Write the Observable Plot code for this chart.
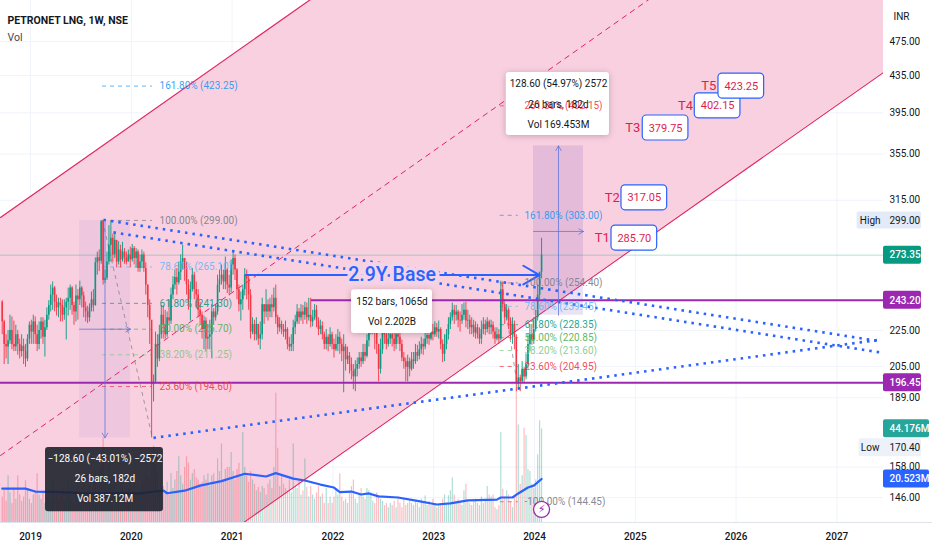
<!DOCTYPE html>
<html><head><meta charset="utf-8">
<script src="https://cdn.jsdelivr.net/npm/d3@7"></script>
<script src="https://cdn.jsdelivr.net/npm/@observablehq/plot@0.6"></script>
<style>
html,body{margin:0;padding:0;background:#fff}
#chart{width:932px;height:550px;overflow:hidden}
.shadow{filter:drop-shadow(0 1px 3px rgba(0,0,0,.22))}
</style></head><body><div id="chart"></div>
<script>
// ---------- weekly candles (INR) ----------
const firstWeek = 2018.7196, weekStep = 0.019246, firstOpen = 242;
const closes = [
230,217,215.5,219,225,217,215.5,222.5,217,213,
216,213,209,220,228,224,230,222.5,217,225,
230,221,226.5,234,240,246.5,251,242,238.5,241.5,
240,234,238.5,242,244.5,251,240,236,246,243.5,
251,246,238.5,236,232.5,238.5,243.5,240,268,271.5,
269,298,256,257.5,268.5,280.5,285.5,273.5,284,268.5,
277,270,275.5,271.5,268.5,273.5,270,278,271,275.5,
264,268.5,273.5,264,253,240,231,195.5,197,217,
209,222.5,234,228,222.5,232.5,230.5,246.5,253,258,
254.5,261.5,268.5,271,264,253,243.5,250,259.5,250,
246.5,237,234,225.5,230.5,220,221,222.5,236,232.5,
236,253,256.5,259.5,255,263,253,251,266.5,271,
263,250,240.5,243.5,250,259.5,257,246.5,224,228.5,
222.5,228.5,220,222.5,240.5,236,240.5,236,240.5,238.5,
244.5,232.5,226.5,228.5,225.5,224,225.5,217,215.5,217,
226.5,230,236,232.5,236,234,238.5,232.5,234,230,
232.5,237,230.5,225.5,227.5,222.5,217,221,217,222.5,
217,214,217,221,217,213,215.5,208.5,210.5,206,
202.5,199.5,203.5,206,209.5,207.5,212.5,210.5,219,225.5,
230.5,231,225.5,217,203.5,214,228.5,222.5,217,220,
222.5,220,217,222.5,221,217,209.5,207.5,204.5,207.5,
203.5,208.5,207.5,212.5,210.5,214,217,215.5,220,222,
220,224,222.5,226.5,224,225.5,217,211.5,217,222.5,
228.5,232.5,237,234,236,231,230.5,234,237,230.5,
231,226.5,228,223.5,226.5,222.5,220,225.5,228.5,225.5,
230,226.5,228,224,220,222.5,220,250,240.5,232.5,
237,230.5,222.5,228.5,221,196,199,197,203.5,199.5,
206,217,222.5,219.5,225.5,232.5,246.5,261.5,273.35];
const highs = [
243,231,222.5,225,234,233,230.5,228,225,220,
222.5,220,217,222.5,230,231,234,233,228,230,
232.5,232.5,231,238.5,243,253,255,252,246.5,244.5,
244.5,243.5,243.5,244.5,251,253,252,242,253,250,
255.5,252,248.5,242,239.5,241,248.5,250,271.5,275.5,
277,299,299,263,275.5,295,298,288.5,289,280.5,
283,280.5,282.5,278,275.5,277,279,281,279.5,278,
277,273.5,277,275.5,268,253,243.5,225.5,200.5,224,
222.5,228,240,240,237,236,243.5,251,258.5,263,
264,268.5,273.5,280.5,271,268.5,256.5,255,264,261.5,
255,250,242,236,233.5,232.5,228.5,231,240.5,238,
240.5,259.5,263,266.5,263,272,264,259.5,270,275.5,
273.5,264,253,248.5,253,264,263,259.5,250,232.5,
231,232.5,228.5,230,244.5,240.5,250,243.5,244.5,246.5,
251,253,234,232.5,230.5,228.5,230.5,226.5,221,222.5,
231,234,240.5,238,240.5,240,242,241.5,244.5,244.5,
237,240.5,240,232.5,231,230,224,225.5,222.5,226.5,
224,220,222.5,225.5,224,220,222.5,217,215.5,212.5,
209.5,206,208,209.5,212.5,212.5,217,217,222.5,228.5,
234,235,231,228.5,217,220,232.5,231,225.5,224.5,
226.5,225.5,224,226.5,225.5,224,219.5,212.5,209.5,211,
209.5,212.5,212.5,217,216.5,218.5,221,220,224,225.5,
226.5,228.5,228.5,230,229,230.5,226.5,219.5,222.5,225.5,
232.5,235.5,241.5,240,240,237,236,240.5,241.5,242,
237,234,232.5,231,230,228.5,226.5,230.5,232.5,231,
232.5,231,231,230,226.5,226.5,225.5,255.5,255,241.5,
240.5,238.5,232.5,232.5,230.5,222.5,206,200.5,207.5,204.5,
211.5,222.5,228.5,228.5,232.5,237,253,261.5,285.5];
const lows = [
222.5,206,209,206,217,214,213,213,211,209,
210,206,204.5,207.5,217,217,217,217,213,214,
220,217,210,225,231,236,237,236,233.5,232.5,
230,230,231,219.5,233.5,237,234,228,230,231,
240,238.5,232.5,230,229,230,236,236,239.5,259.5,
262,267,253,254,256,266.5,268.5,268.5,271,264.5,
266.5,264.5,268.5,267,266.5,268.5,264.5,268.5,266.5,264.5,
261.5,261.5,264,261.5,246.5,232.5,217,170.4,187,196,
204.5,207.5,220,220,220,221,228.5,228.5,243.5,250,
246.5,253,256,263,255.5,246.5,237,230.5,248.5,243.5,
238.5,233,228.5,220,214,213,214,214,209,228.5,
230.5,234,248,253,250,250,247.5,246,248,259.5,
256,243.5,236,230.5,237,246,243.5,237,220,222.5,
219,219,216.5,214,219.5,228.5,232.5,230.5,232.5,232.5,
236,228.5,222.5,224,222.5,221,219.5,214,213,213,
213,222.5,228.5,228.5,230.5,228.5,231,228.5,230.5,226.5,
227,231,226.5,222,222.5,219.5,214,214,213,215.5,
214,209.5,213,213,211.5,207.5,191.5,202.5,206,201,
198,193,192,199.5,203.5,204.5,206,207.5,209.5,215.5,
222.5,222.5,214,211.5,197,201,211.5,217,214,215.5,
217,215.5,213,214,217,213,207.5,203.5,197,197,
199.5,202.5,203.5,206,207.5,208.5,211.5,211,214,217,
216.5,219,219,221,221,220,214,207,207.5,214,
219.5,225.5,230.5,228.5,230.5,226.5,224,228.5,231,226.5,
225.5,222.5,222.5,221,220,220,217,217,222.5,222,
223.5,222.5,222.5,220,217,219,217,219,236,228.5,
230.5,225.5,219.5,217,214,192,193,192,196.5,196,
198,203.5,213,216.5,217,224,230.5,243.5,257];
// ---------- weekly volume (millions) ----------
const volumes = [
12,15,10,22,14,9,16,11,22,13,
10,12,19.7,15,11,9,13,15,23,13,
11,14,9,12,15,10,20,12,13,10,
12,17,10,14,20,13,11,9,15,17,
14,16,18,12,15,17,13,20,24,17,
24,26,40,22,18,27,20,17,24,15,
14,19,22,13,17,16,21,15,18,14,
17,15,20,18,24,22,20,28,36,27,
22,15,20,17,14,19,13,23,16,20,
24,31,22,18,26,31,28,20,23,25,
21,20,18,19,22,20,23,17,22,23,
18,30,24,37,20,25,26,26,33,24,
20,25,28,22,42.5,26,22,19,24,20,
18,15,16.5,14,17,16,13,18,20,16,
26,61,35,17,22,18,16,15,20,14,
37,17,16,20,13,15,30,16.5,12,17,
13,11,14,17,12,13.5,9,16,9,12,
9,12,16,13,23,12,10,11,9,14,
17,20,11,9,13,16,12,11,16,15,
14,10,9,14,12,11,10,8,9,7,
9,8,10,7,12,9,7,11,8,9,
10,9,8,10,9,7,11,9,12.5,8,
10,8,11,9,7,8,9,11,13,8,
12.6,15,21,13,10,11,9,8,15,18,
10,9,8,10,11,9,8,12,9,10,
17,13,12,13,7,6,8,42.5,15.7,12,
15,13,10,7,12,63,46,18,22,44.5,
41,25,24,18,16,20,32,48,44.176];
const maWeeks = [0,12,17,30,43,58,71,83,85,94,102,113,125,136,141,150,156,164,171,174,180,185,189,194,204,214,224,231,240,255,257,263,266,271,274,278];
const maValues = [16,16,14.6,14.3,13.7,13.9,13.7,15.1,13.8,15,17.4,19.5,23,21.7,23.3,20.7,19.8,17.9,16.5,14.3,14.6,13.2,13.7,12.3,11.8,10.2,8.5,9,10.4,10.8,11.8,11.8,13.7,16.5,17.4,20.523];

// ---------- axes ----------
const yearTicks = [2019,2020,2021,2022,2023,2024,2025,2026,2027];
const priceTicks = [475,435,395,355,315,225,205,189,158,146];
const xDomain = [2018.7024, 2027.4623], yDomain = [136.9, 528.1];
const tagEnd = 2027.8393, tagEndWide = 2027.9186, pageEnd = 2027.948;

// ---------- channel (year, upper, mid, lower) ----------
const channelYears = [2018.7024, 2027.4623];
const channelUpper = [301.3, 1500.6], channelMid = [162.8, 811.3], channelLower = [87.96, 438.4];
// ---------- dotted triangle ----------
const dotted = [
  {x1:2019.724,y1:299.5,x2:2027.433,y2:218.7},
  {x1:2019.823,y1:289.9,x2:2027.433,y2:212.5},
  {x1:2020.22, y1:170.4,x2:2027.433,y2:219.7}];
// ---------- fib levels ----------
const gray="#787b86",blue="#64b5f6",teal="#089981",green="#4caf50",lgreen="#81c784",red="#f23645",bluer="#2196f3";
const fibLeftPct = ["161.80%","100.00%","78.60%","61.80%","50.00%","38.20%","23.60%"];
const fibLeftVal = [423.25,299,265.1,241.3,225.7,211.25,194.6];
const fibLeftCol = [bluer,gray,blue,teal,green,lgreen,red];
const fibRightPct = ["261.80%","161.80%","100.00%","78.60%","61.80%","50.00%","38.20%","23.60%","-100.00%"];
const fibRightVal = [402.15,303,254.4,239.45,228.35,220.85,213.6,204.95,144.45];
const fibRightCol = [red,bluer,gray,blue,teal,green,lgreen,red,gray];
const fibL = fibLeftVal.map((v,i)=>({v,t:`${fibLeftPct[i]} (${v.toFixed(2)})`,c:fibLeftCol[i]}));
const fibR = fibRightVal.map((v,i)=>({v,t:`${fibRightPct[i]} (${v.toFixed(2)})`,c:fibRightCol[i]}));
// ---------- targets ----------
const targetNames = ["T1","T2","T3","T4","T5"];
const targetVals = [285.7,317.05,379.75,402.15,423.25];
const targetBoxX = [2024.764,2024.863,2025.074,2025.59,2025.825];
const targetNameX = [2024.672,2024.771,2024.975,2025.498,2025.729];
const targets = targetVals.map((v,i)=>({v,n:targetNames[i],x1:targetBoxX[i],x2:targetBoxX[i]+0.453,xm:targetBoxX[i]+0.2265,xn:targetNameX[i]}));

const rows = closes.map((c,i)=>{
  const o = i?closes[i-1]:firstOpen;
  return {x:firstWeek+i*weekStep,o,c,h:highs[i],l:lows[i],v:volumes[i],col:c>=o?"#089981":"#f23645"};
});
const channel = channelYears.map((x,i)=>({x,u:channelUpper[i],m:channelMid[i],l:channelLower[i]}));
// The volume pane shares the frame: a fixed share of it per million, read through the price scale.
const yScale = Plot.scale({y:{type:"log",domain:yDomain,range:[522,0]}});
const volPrice = v => yScale.invert(522 - v*2.12);
const ma = maWeeks.map((w,i)=>({x:firstWeek+w*weekStep,y:volPrice(maValues[i])}));

const font = "Roboto, 'Noto Sans', sans-serif";
const txt = "#131722";
const tags = [
 {v:273.35,t:"273.35",f:"#089981",e:tagEnd},
 {v:243.2,t:"243.20",f:"#9c27b0",e:tagEnd},
 {v:196.45,t:"196.45",f:"#9c27b0",e:tagEnd},
 {v:volPrice(44.176),t:"44.176M",f:"#26a69a",e:tagEndWide},
 {v:volPrice(20.523),t:"20.523M",f:"#2962ff",e:tagEndWide}];

const chart = Plot.plot({
  width:932,height:550,marginTop:0,marginBottom:28,marginLeft:0,marginRight:49,
  style:{fontFamily:font,background:"#fff",overflow:"visible"},
  color:{type:"identity"},
  x:{domain:xDomain,axis:null},
  y:{type:"log",domain:yDomain,axis:null},
  marks:[
    Plot.ruleY(priceTicks,{stroke:"#f0f3fa",strokeWidth:1}),
    Plot.ruleX(yearTicks,{stroke:"#f0f3fa",strokeWidth:1}),
    Plot.areaY(channel,{x:"x",y1:"u",y2:"l",fill:"#f9d0df",clip:true}),
    Plot.ruleY([yDomain[0]],{x1:xDomain[0],x2:pageEnd,stroke:"#e0e3eb",strokeWidth:1}),
    // volume
    Plot.ruleX(rows,{x:"x",y1:()=>volPrice(0),y2:d=>volPrice(d.v),stroke:"col",strokeOpacity:.32,strokeWidth:1.2,clip:true}),
    Plot.line(ma,{x:"x",y:"y",stroke:"#2962ff",strokeWidth:2.2}),
    // channel lines
    Plot.line(channel,{x:"x",y:"u",stroke:"#e0245e",strokeWidth:1.1,clip:true}),
    Plot.line(channel,{x:"x",y:"m",stroke:"#e0245e",strokeWidth:1,strokeDasharray:"5 5",clip:true}),
    Plot.line(channel,{x:"x",y:"l",stroke:"#e0245e",strokeWidth:1.1,clip:true}),
    // last price
    Plot.ruleY([273.35],{x1:xDomain[0],x2:xDomain[1],stroke:"#089981",strokeOpacity:.3,strokeWidth:1}),
    // measure boxes
    Plot.rect([{a:2019.486,b:2019.992,c:170.4,d:299}],{x1:"a",x2:"b",y1:"c",y2:"d",fill:"#9575cd",fillOpacity:.1}),
    Plot.rect([{a:2023.99,b:2024.486,c:234,d:362.6}],{x1:"a",x2:"b",y1:"c",y2:"d",fill:"#7e57c2",fillOpacity:.17}),
    // fib level dashes
    Plot.ruleY(fibL,{y:"v",x1:2019.714,x2:2020.21,stroke:"c",strokeWidth:1,strokeDasharray:"4 4",strokeOpacity:.7}),
    Plot.ruleY(fibR,{y:"v",x1:2023.66,x2:2023.84,stroke:"c",strokeWidth:1,strokeDasharray:"4 4",strokeOpacity:.7}),
    Plot.link([{a:2019.714,b:299,c:2020.21,d:170.4},{a:2023.673,b:254.4,c:2023.83,d:195}],
      {x1:"a",y1:"b",x2:"c",y2:"d",stroke:gray,strokeWidth:1,strokeDasharray:"4 4",strokeOpacity:.7}),
    // candles
    Plot.ruleX(rows,{x:"x",y1:"l",y2:"h",stroke:"col",strokeWidth:.9}),
    Plot.ruleX(rows,{x:"x",y1:"o",y2:"c",stroke:"col",strokeWidth:1.6}),
    // horizontal levels
    Plot.ruleY([196.45],{x1:xDomain[0],x2:xDomain[1],stroke:"#9c27b0",strokeWidth:2}),
    Plot.ruleY([243.2],{x1:2021.788,x2:xDomain[1],stroke:"#9c27b0",strokeWidth:2}),
    // dotted triangle
    Plot.link(dotted,{x1:"x1",y1:"y1",x2:"x2",y2:"y2",stroke:"#2962ff",strokeWidth:2.6,strokeDasharray:"2.5 5"}),
    // measure arrows
    Plot.arrow([{a:2019.739,b:299,c:2019.739,d:170.4},{a:2019.486,b:225.7,c:2019.992,d:225.7},
                {a:2024.238,b:234,c:2024.238,d:362.6},{a:2023.99,b:290.6,c:2024.486,d:290.6}],
      {x1:"a",y1:"b",x2:"c",y2:"d",stroke:"#5b74dc",strokeWidth:.9,strokeOpacity:.85,headLength:9,bend:0}),
    // base arrow
    Plot.arrow([{a:2021.134,b:259.6,c:2024.05,d:259.6}],{x1:"a",y1:"b",x2:"c",y2:"d",stroke:"#2962ff",strokeWidth:2,headLength:14,bend:0}),
    Plot.text(["2.9Y Base"],{x:2022.587,y:259.6,fill:"#2962ff",stroke:"#f3d4e6",strokeWidth:8,fontSize:19.5,fontWeight:500}),
    // fib texts
    Plot.text(fibL,{x:2020.28,y:"v",text:"t",fill:"c",fillOpacity:.9,textAnchor:"start",fontSize:10}),
    // labels
    Plot.rect([{a:2022.185,b:2022.988,c:223.2,d:250},{a:2023.72,b:2024.744,c:372.5,d:438.4}],
      {x1:"a",x2:"b",y1:"c",y2:"d",fill:"#fff",rx:3,className:"shadow"}),
    Plot.text(fibR,{x:2023.9,y:"v",text:"t",fill:"c",fillOpacity:.9,textAnchor:"start",fontSize:10}),
    Plot.rect([{a:2019.149,b:2020.319,c:140.8,d:166.2}],{x1:"a",x2:"b",y1:"c",y2:"d",fill:"#1e222d",fillOpacity:.9,rx:3}),
    Plot.text(["−128.60 (−43.01%) −2572","26 bars, 182d","Vol 387.12M"],{x:2019.739,y:[161.6,153.4,145.7],fill:"#fff",fontSize:10}),
    Plot.text(["128.60 (54.97%) 2572","26 bars, 182d","Vol 169.453M"],{x:2024.238,y:[426,403.6,383.2],fill:txt,fontSize:10}),
    Plot.text(["152 bars, 1065d","Vol 2.202B"],{x:2022.586,y:[242.5,230.2],fill:txt,fontSize:10}),
    // targets
    Plot.rect(targets,{x1:"x1",x2:"x2",y1:"v",y2:"v",insetTop:-12.5,insetBottom:-12.5,fill:"#fff",stroke:"#2962ff",strokeWidth:1.2,rx:4}),
    Plot.text(targets,{x:"xm",y:"v",text:d=>d.v.toFixed(2),fill:"#dd1e4f",fontSize:11}),
    Plot.text(targets,{x:"xn",y:"v",text:"n",fill:"#dd1e4f",fontSize:13}),
    // flash event
    Plot.dot([{x:2024.07,y:141.6}],{x:"x",y:"y",r:8,fill:"#fff",stroke:"#9c27b0",strokeWidth:1.3}),
    Plot.text(["⚡"],{x:2024.07,y:141.6,fill:"#9c27b0",fontSize:11,fontFamily:"DejaVu Sans"}),
    // price tags
    Plot.rect(tags,{x1:xDomain[1],x2:"e",y1:"v",y2:"v",insetTop:-9,insetBottom:-9,fill:"f",rx:2}),
    Plot.text(tags,{x:xDomain[1],y:"v",text:"t",dx:6,fill:"#fff",textAnchor:"start",fontSize:10,fontWeight:500}),
    Plot.rect([{v:299,a:2027.2}],{x1:"a",x2:tagEnd,y1:"v",y2:"v",insetTop:-8.5,insetBottom:-8.5,fill:"#e3eaf8",rx:2}),
    Plot.rect([{v:170.4,a:2027.22}],{x1:"a",x2:tagEnd,y1:"v",y2:"v",insetTop:-9,insetBottom:-9,dy:10,fill:"#edf2fa",rx:2}),
    Plot.text(["High"],{x:2027.33,y:299,fill:txt,fontSize:10}),
    Plot.text(["299.00"],{x:xDomain[1],y:299,dx:6,fill:txt,textAnchor:"start",fontSize:10}),
    Plot.text(["Low"],{x:2027.33,y:170.4,dy:10,fill:txt,fontSize:10}),
    Plot.text(["170.40"],{x:xDomain[1],y:170.4,dy:10,dx:6,fill:txt,textAnchor:"start",fontSize:10}),
    Plot.text(["INR"],{x:xDomain[1],y:yDomain[1],dx:10,dy:16,fill:txt,textAnchor:"start",fontSize:10}),
    Plot.text(["PETRONET LNG, 1W, NSE"],{frameAnchor:"top-left",dx:7,dy:16,fill:txt,fontSize:10.5,fontWeight:700,textAnchor:"start"}),
    Plot.text(["Vol"],{frameAnchor:"top-left",dx:7,dy:33,fill:"#434651",fontSize:10.5,textAnchor:"start"}),
    // axes
    Plot.axisX({ticks:yearTicks,tickFormat:d=>String(d),tickSize:0,tickPadding:10,label:null,fontSize:10,fontWeight:500,fill:txt}),
    Plot.axisY({anchor:"right",ticks:priceTicks,tickFormat:d=>d.toFixed(2),tickSize:0,tickPadding:6,label:null,fontSize:10,fill:txt})
  ]
});
document.getElementById("chart").append(chart);
</script></body></html>
